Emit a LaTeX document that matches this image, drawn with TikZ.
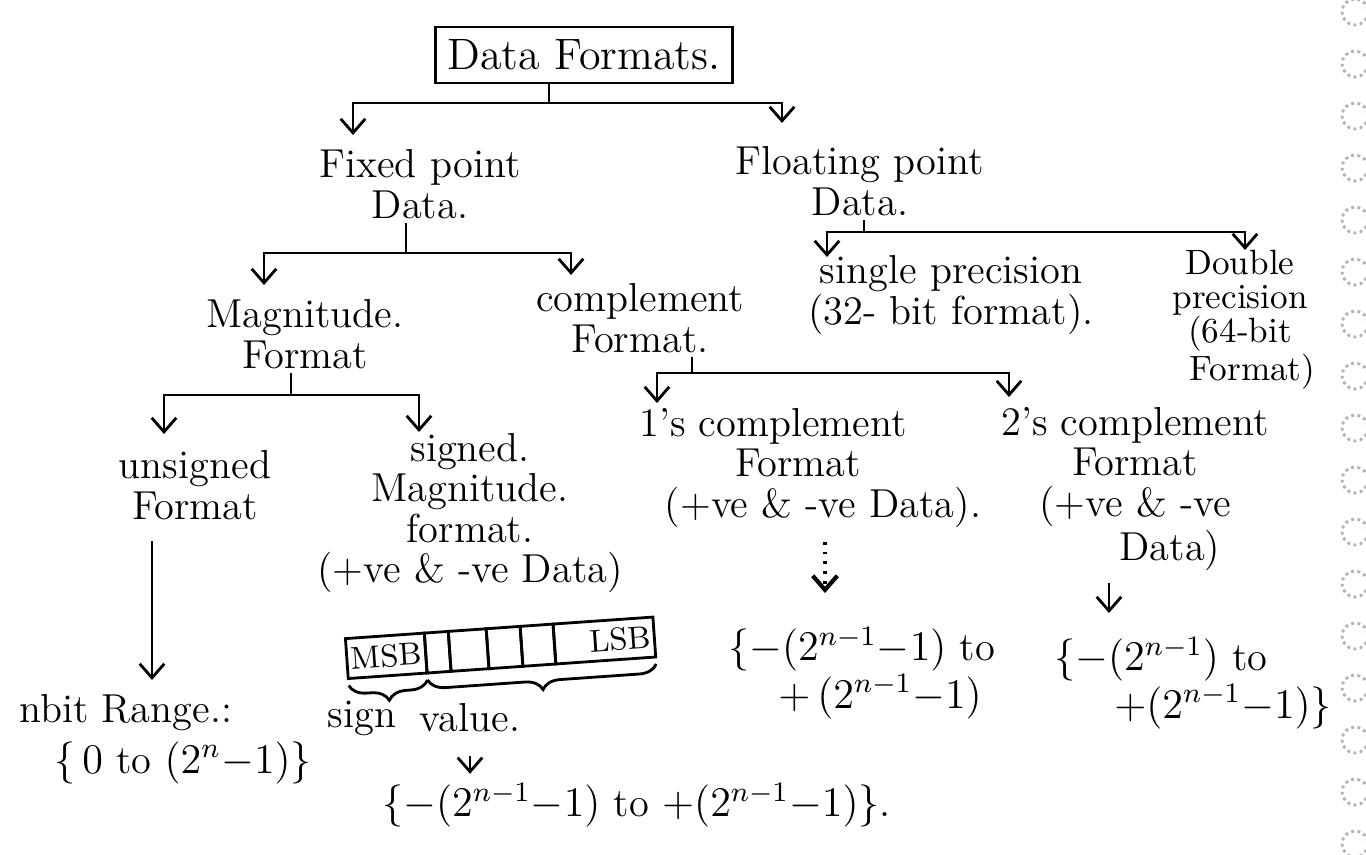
\documentclass[tikz,border=0pt]{standalone}
\usepackage{amsmath}
\usetikzlibrary{arrows.meta, positioning, decorations.pathreplacing}

\begin{document}
\begin{tikzpicture}[
        x=0.01cm, y=-0.01cm,
        title/.style = {draw, line width=0.8pt, minimum width=2.86cm, minimum height=0.56cm, font=\fontsize{12.5}{14}\selectfont},
        txt/.style = {align=center, inner sep=1pt, font=\fontsize{11.5}{11.5}\selectfont},
        small/.style = {align=center, inner sep=1pt, font=\fontsize{10}{9.6}\selectfont},
        cell/.style = {draw, line width=0.8pt, outer sep=0pt, inner sep=1pt, minimum height=0.4cm, font=\fontsize{9}{9}\selectfont},
        line/.style = {line width=0.8pt},
        arrow/.style = {line width=0.8pt, -{Straight Barb[length=4pt, width=7pt]}},
        dotarrow/.style = {arrow, dotted, line width=1.2pt},
        curly/.style = {decorate, decoration={brace, amplitude=5pt, mirror, raise=2pt}, line width=0.8pt},
        hole/.style = {gray!60, densely dotted, line width=0.8pt}
    ]
        \fill[white] (0,0) rectangle (1366,854);
        \useasboundingbox (0,0) rectangle (1366,854);

        % Nodes
        \node [title] (root) at (584,55) {Data Formats.};
        \node [txt] (fixed) at (420,184) {Fixed point\\Data.};
        \node [txt] (float) at (860,181) {Floating point\\Data.};
        \node [txt] (mag) at (305,334) {Magnitude.\\Format};
        \node [txt] (comp) at (640,318) {complement\\Format.};
        \node [txt] (single) at (951,295) {single precision\\(32- bit format).};
        \node [small] (double) at (1240,320) {Double\\precision\\(64-bit\hspace*{1.1cm}\\\hspace*{0.25cm}Format)};
        \node [txt] (unsig) at (195,485) {unsigned\\Format};
        \node [txt] (signed) at (470,513) {signed.\\Magnitude.\\format.\\(+ve \& -ve Data)};
        \node [txt] (ones) at (798,468) {1's complement\hspace*{0.5cm}\\Format\\\hspace*{0.5cm}(+ve \& -ve Data).};
        \node [txt] (twos) at (1135,489) {2's complement\\Format\\(+ve \& -ve\\\hspace*{0.7cm}Data)};

        \node [txt, align=left, anchor=west] (range) at (15,739) {nbit Range.:\\[3pt]\hspace*{0.35cm}$\{\,0$ to $(2^n{-}1)\}$};
        \node [txt, align=left, anchor=west] (onesrange) at (724,673) {$\{-(2^{n-1}{-}1)$ to\\\hspace*{0.5cm}$+\,(2^{n-1}{-}1)$};
        \node [txt, align=left, anchor=west] (twosrange) at (1050,683) {$\{-(2^{n-1})$ to\\\hspace*{0.6cm}$+(2^{n-1}{-}1)\}$};

        % register
        \begin{scope}[rotate around={4:(498,648)}, transform shape]
            \node [cell, minimum width=0.79cm] (msb) at (386,648) {MSB};
            \node [cell, minimum width=0.24cm, right=0pt of msb] (c1) {};
            \node [cell, minimum width=0.38cm, right=0pt of c1] (c2) {};
            \node [cell, minimum width=0.34cm, right=0pt of c2] (c3) {};
            \node [cell, minimum width=0.33cm, right=0pt of c3] (c4) {};
            \node [cell, minimum width=0.93cm, right=0pt of c4] (lsb) {\quad LSB};
            \draw [curly] (msb.south west) -- (msb.south east);
            \draw [curly] (c1.south west) -- (lsb.south east);
        \end{scope}
        \node [txt] (sign) at (362,718) {sign};
        \node [txt] (value) at (470,718) {value.};
        \node [txt, anchor=west] (smrange) at (378,805) {$\{-(2^{n-1}{-}1)$ to $+(2^{n-1}{-}1)\}$.};

        % Connections
        \coordinate (j1) at (549,103);
        \coordinate (fixed-in) at (353,135);
        \coordinate (float-in) at (782,123);
        \draw [line] (root.south -| j1) -- (j1);
        \draw [arrow] (j1) -| (fixed-in);
        \draw [arrow] (j1) -| (float-in);

        \coordinate (j2) at (406,253);
        \coordinate (mag-in) at (264,285);
        \coordinate (comp-in) at (571,275);
        \draw [line] (fixed.south -| j2) -- (j2);
        \draw [arrow] (j2) -| (mag-in);
        \draw [arrow] (j2) -| (comp-in);

        \coordinate (j3) at (864,232);
        \coordinate (single-in) at (827,257);
        \coordinate (double-in) at (1245,250);
        \draw [line] (float.south -| j3) -- (j3);
        \draw [arrow] (j3) -| (single-in);
        \draw [arrow] (j3) -| (double-in);

        \coordinate (j4) at (291,395);
        \coordinate (unsig-in) at (164,434);
        \coordinate (signed-in) at (419,432);
        \draw [line] (mag.south -| j4) -- (j4);
        \draw [arrow] (j4) -| (unsig-in);
        \draw [arrow] (j4) -| (signed-in);

        \coordinate (j5) at (692,373);
        \coordinate (ones-in) at (657,403);
        \coordinate (twos-in) at (1009,397);
        \draw [line] (comp.south -| j5) -- (j5);
        \draw [arrow] (j5) -| (ones-in);
        \draw [arrow] (j5) -| (twos-in);

        \draw [arrow, shorten <=0.17cm, shorten >=0.1cm] (unsig.south -| 152,0) -- (range.north -| 152,0);
        \draw [dotarrow, shorten <=0.1cm, shorten >=0.3cm] ([xshift=0.27cm]ones.south) -- ([xshift=0.27cm]ones.south |- onesrange.north);
        \draw [arrow, shorten <=0.08cm, shorten >=0.2cm] ([xshift=-0.26cm]twos.south) -- ([xshift=-0.26cm]twos.south |- twosrange.north);
        \draw [arrow, shorten <=0.2cm, shorten >=0.05cm] (value.south) -- (value.south |- smrange.north);

        % punched holes
        \foreach \k in {0,...,16}
            \draw [hole] (1355,{12+52*\k}) circle (13);
    \end{tikzpicture}
\end{document}
